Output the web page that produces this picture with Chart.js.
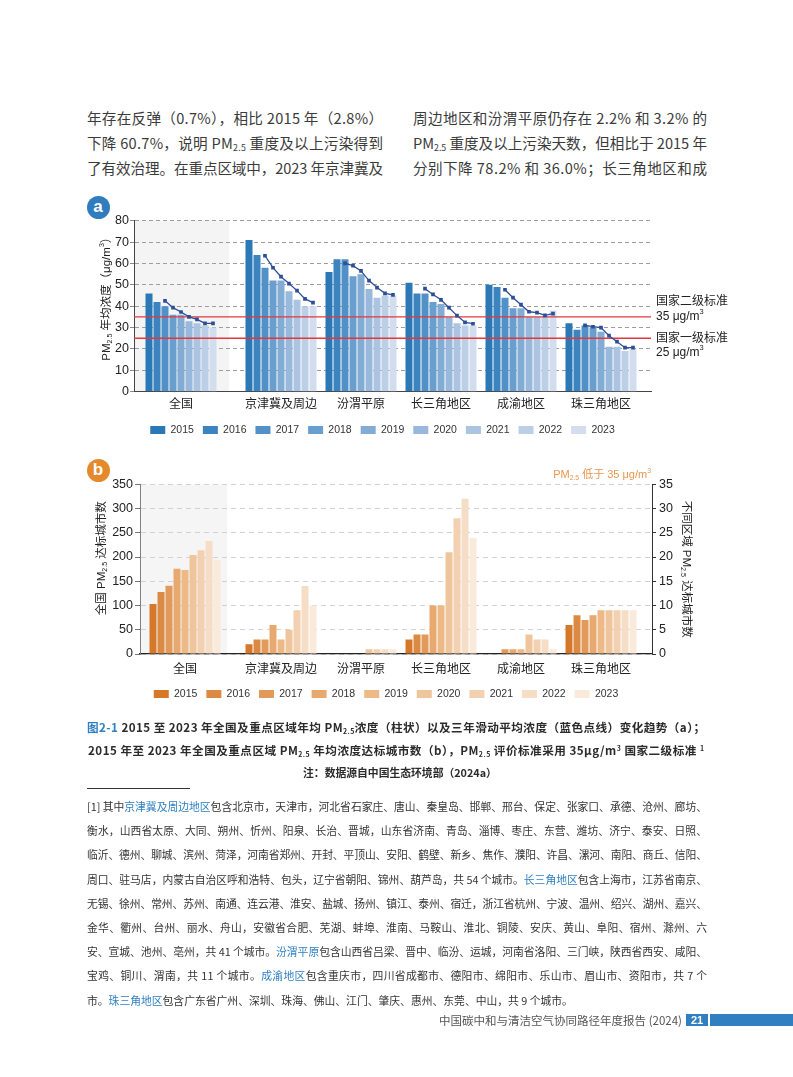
<!DOCTYPE html>
<html lang="zh-CN">
<head>
<meta charset="utf-8">
<title>图2-1</title>
<script src="https://cdn.jsdelivr.net/npm/chart.js@4.4.1/dist/chart.umd.min.js"></script>
<style>
  html, body { margin: 0; padding: 0; background: #fff; }
  body { position: relative; width: 793px; height: 1077px; overflow: hidden;
    font-family: "Noto Sans CJK SC", "Liberation Sans", sans-serif; color: #3b3b3b; }
  .abs { position: absolute; }
  .para { font-size: 14.6px; line-height: 25px; }
  .j { white-space: nowrap; }
  sub { font-size: 0.6em; vertical-align: -0.25em; line-height: 0; }
  sup { font-size: 0.6em; vertical-align: 0.6em; line-height: 0; }
  .cap { font-size: 11.6px; font-weight: 700; color: #2b2b2b; line-height: 23px; }
  .blue { color: #2f7fc1; }
  .note { font-size: 10.8px; line-height: 24.2px; color: #333; }
  .badge { width: 23px; height: 23px; border-radius: 50%; color: #fff; text-align: center;
    font: bold 17px "Liberation Sans", sans-serif; line-height: 21px; }
</style>
</head>
<body>

<div class="abs para" style="left:87px;top:105px;width:296px">
  <div class="j">年存在反弹（0.7%），相比 2015 年（2.8%）</div>
  <div class="j">下降 60.7%，说明 PM<sub>2.5</sub> 重度及以上污染得到</div>
  <div class="j">了有效治理。在重点区域中，2023 年京津冀及</div>
</div>
<div class="abs para" style="left:413px;top:105px;width:294px">
  <div class="j">周边地区和汾渭平原仍存在 2.2% 和 3.2% 的</div>
  <div class="j">PM<sub>2.5</sub> 重度及以上污染天数，但相比于 2015 年</div>
  <div class="j">分别下降 78.2% 和 36.0%；长三角地区和成</div>
</div>

<div class="abs badge" style="left:86.5px;top:195.5px;background:#2f7dbf">a</div>
<div class="abs" style="left:80px;top:190px"><canvas id="chartA" width="713" height="260"></canvas></div>

<div class="abs badge" style="left:86.5px;top:458.5px;background:#e58a2c">b</div>
<div class="abs" style="left:80px;top:455px"><canvas id="chartB" width="713" height="265"></canvas></div>

<div class="abs cap j" style="left:87px;top:715.5px;width:618px"><span class="blue">图2-1</span> 2015 至 2023 年全国及重点区域年均 PM<sub>2.5</sub>浓度（柱状）以及三年滑动平均浓度（蓝色点线）变化趋势（a）；</div>
<div class="abs cap j" style="left:88px;top:738.5px;width:616px">2015 年至 2023 年全国及重点区域 PM<sub>2.5</sub> 年均浓度达标城市数（b），PM<sub>2.5</sub> 评价标准采用 35μg/m<sup>3</sup> 国家二级标准 <sup>1</sup></div>
<div class="abs cap" style="left:250px;top:760.5px;width:300px;text-align:center;font-size:10.8px">注：数据源自中国生态环境部（2024a）</div>

<div class="abs" style="left:87px;top:788px;width:103px;height:1px;background:#333"></div>

<div class="abs note" style="left:87px;top:794px;width:620px">
  <div class="j">[1] 其中<span class="blue">京津冀及周边地区</span>包含北京市，天津市，河北省石家庄、唐山、秦皇岛、邯郸、邢台、保定、张家口、承德、沧州、廊坊、</div>
  <div class="j">衡水，山西省太原、大同、朔州、忻州、阳泉、长治、晋城，山东省济南、青岛、淄博、枣庄、东营、潍坊、济宁、泰安、日照、</div>
  <div class="j">临沂、德州、聊城、滨州、菏泽，河南省郑州、开封、平顶山、安阳、鹤壁、新乡、焦作、濮阳、许昌、漯河、南阳、商丘、信阳、</div>
  <div class="j">周口、驻马店，内蒙古自治区呼和浩特、包头，辽宁省朝阳、锦州、葫芦岛，共 54 个城市。<span class="blue">长三角地区</span>包含上海市，江苏省南京、</div>
  <div class="j">无锡、徐州、常州、苏州、南通、连云港、淮安、盐城、扬州、镇江、泰州、宿迁，浙江省杭州、宁波、温州、绍兴、湖州、嘉兴、</div>
  <div class="j">金华、衢州、台州、丽水、舟山，安徽省合肥、芜湖、蚌埠、淮南、马鞍山、淮北、铜陵、安庆、黄山、阜阳、宿州、滁州、六</div>
  <div class="j">安、宣城、池州、亳州，共 41 个城市。<span class="blue">汾渭平原</span>包含山西省吕梁、晋中、临汾、运城，河南省洛阳、三门峡，陕西省西安、咸阳、</div>
  <div class="j">宝鸡、铜川、渭南，共 11 个城市。<span class="blue">成渝地区</span>包含重庆市，四川省成都市、德阳市、绵阳市、乐山市、眉山市、资阳市，共 7 个</div>
  <div style="white-space:nowrap">市。<span class="blue">珠三角地区</span>包含广东省广州、深圳、珠海、佛山、江门、肇庆、惠州、东莞、中山，共 9 个城市。</div>
</div>

<div class="abs" style="right:111px;top:1012px;font-size:11.5px;line-height:16px;color:#555;white-space:nowrap">中国碳中和与清洁空气协同路径年度报告 (2024)</div>
<div class="abs" style="left:686px;top:1013.5px;width:22px;height:12px;background:#2f7fc1;color:#fff;font:bold 11px 'Liberation Sans',sans-serif;line-height:12px;text-align:center">21</div>
<div class="abs" style="left:710px;top:1013.5px;width:83px;height:12px;background:#2f7fc1"></div>

<script>
const years = ['2015', '2016', '2017', '2018', '2019', '2020', '2021', '2022', '2023']
const regions = ['全国', '京津冀及周边', '汾渭平原', '长三角地区', '成渝地区', '珠三角地区']
const regionPosA = [0, 1.25, 2.25, 3.25, 4.25, 5.25]
const regionPosB = [0.05, 1.25, 2.25, 3.25, 4.25, 5.25]

// (a) annual mean PM2.5, ug/m3, 2015-2023
const pmNational = [46, 42, 40, 36, 36, 33, 32, 31, 30]
const pmJJJ = [71, 64, 58, 52, 52, 47, 43, 40, 40]
const pmFenwei = [56, 62, 62, 54, 55, 48, 44, 45, 45]
const pmYRD = [51, 46, 46, 42, 41, 35, 32, 31, 31]
const pmChengyu = [50, 49, 44, 39, 39, 35, 35, 35, 38]
const pmPRD = [32, 29, 31, 30, 28, 21, 21, 19, 20]

// (a) three-year moving average, 2017-2023
const maNational = [42.5, 39.3, 37.3, 35, 33.8, 32, 32]
const maJJJ = [63.6, 58, 53.8, 50.6, 47.3, 43.4, 41.7]
const maFenwei = [60, 59, 56.5, 52, 48.7, 46, 45.3]
const maYRD = [48.2, 45.5, 43, 39.3, 35.6, 32.4, 31.8]
const maChengyu = [47.7, 44, 40.7, 37.4, 37, 35.7, 36.5]
const maPRD = [31, 30.4, 30, 26.2, 23.4, 20.6, 20.6]

const standardValues = [35, 25]
const standardNames = ['国家二级标准', '国家一级标准']

// (b) cities meeting 35 ug/m3 (全国 on left axis, regions on right axis)
const cityNational = [103, 128, 141, 176, 173, 204, 214, 233, 194]
const cityJJJ = [2, 3, 3, 6, 3, 5, 9, 14, 10]
const cityFenwei = [0, 0, 0, 0, 0, 1, 1, 1, 1]
const cityYRD = [3, 4, 4, 10, 10, 21, 28, 32, 24]
const cityChengyu = [0, 0, 1, 1, 1, 4, 3, 3, 1]
const cityPRD = [6, 8, 7, 8, 9, 9, 9, 9, 9]

const BLUES = ['#2b78b6', '#3b84c0', '#5291c8', '#6a9ece', '#83acd5', '#98b8dc', '#aac4e2', '#bccfe7', '#d2ddee']
const ORANGES = ['#d5782a', '#dc8943', '#e29a5a', '#e7a96f', '#ecb987', '#efc59b', '#f3d1b0', '#f6dec6', '#f9eadc']
const LINE_BLUE = '#2e4f98'
const CAT_PCT = 0.9

const FONT_LATIN = '"Liberation Sans", "Noto Sans CJK SC", sans-serif'
const FONT_CJK = '"Noto Sans CJK SC", "Liberation Sans", sans-serif'

// stretch or squeeze each text line to its box width
function fitLines() {
  document.querySelectorAll('.j').forEach(el => {
    const target = el.getBoundingClientRect().width
    el.style.width = 'max-content'
    const natural = el.getBoundingClientRect().width
    el.style.width = target + 'px'
    const n = [...el.textContent.replace(/\s+/g, ' ').trim()].length
    el.style.letterSpacing = ((target - natural) / Math.max(n - 1, 1)) + 'px'
  })
}
fitLines()

// text with _sub and ^sup parts
function drawRich(ctx, parts, x, y, size, color, align) {
  ctx.save()
  ctx.fillStyle = color
  ctx.textBaseline = 'middle'
  ctx.textAlign = 'left'
  const items = parts.map(p => {
    let s = size, dy = 0, t = p
    if (p[0] === '_') { t = p.slice(1); s = size * 0.62; dy = size * 0.3 }
    else if (p[0] === '^') { t = p.slice(1); s = size * 0.62; dy = -size * 0.38 }
    ctx.font = `${s}px ${FONT_LATIN}`
    return { t, s, dy, w: ctx.measureText(t).width }
  })
  const total = items.reduce((a, it) => a + it.w, 0)
  let cx = align === 'center' ? x - total / 2 : align === 'right' ? x - total : x
  for (const it of items) {
    ctx.font = `${it.s}px ${FONT_LATIN}`
    ctx.fillText(it.t, cx, y + it.dy)
    cx += it.w
  }
  ctx.restore()
}

const barOffset = (k) => (k - (years.length - 1) / 2) * CAT_PCT / years.length

const shadePlugin = {
  id: 'shade',
  beforeDraw(chart, args, opts) {
    const { ctx, chartArea: a, scales: { x } } = chart
    ctx.save()
    ctx.fillStyle = opts.color
    ctx.fillRect(a.left, a.top, x.getPixelForValue(opts.to) - a.left, a.bottom - a.top)
    ctx.restore()
  },
}

const legendShift = {
  id: 'legendShift',
  afterLayout(chart, args, opts) {
    const l = chart.legend
    if (!l) return
    l.left += opts.dx
    l.right += opts.dx
  },
}

const standardsPlugin = {
  id: 'standards',
  beforeDatasetDraw(chart, args) {
    if (args.meta.type !== 'line') return
    const { ctx, chartArea: a, scales: { y } } = chart
    ctx.save()
    ctx.strokeStyle = '#e2383c'
    ctx.lineWidth = 1.3
    standardValues.forEach(v => {
      const py = y.getPixelForValue(v)
      ctx.beginPath()
      ctx.moveTo(a.left, py)
      ctx.lineTo(a.right, py)
      ctx.stroke()
    })
    ctx.restore()
  },
  afterDraw(chart) {
    const { ctx, chartArea: a, scales: { y } } = chart
    standardValues.forEach((v, i) => {
      const py = y.getPixelForValue(v)
      const nameY = i === 0 ? py - 15 : py
      const valY = i === 0 ? py : py + 14
      drawRich(ctx, [standardNames[i]], a.right + 5, nameY, 12, '#222', 'left')
      drawRich(ctx, [`${v} μg/m`, '^3'], a.right + 5, valY, 12, '#222', 'left')
    })
    // y title
    ctx.save()
    ctx.translate(y.left + 26.7, (a.top + a.bottom) / 2 - 10)
    ctx.rotate(-Math.PI / 2)
    drawRich(ctx, ['PM', '_2.5', ' 年均浓度（μg/m', '^3', '）'], 0, 0, 11.5, '#222', 'center')
    ctx.restore()
  },
}

const titlesB = {
  id: 'titlesB',
  afterDraw(chart) {
    const { ctx, chartArea: a, scales: { y, y1 } } = chart
    ctx.save()
    ctx.translate(y.left + 21.7, (a.top + a.bottom) / 2 - 11)
    ctx.rotate(-Math.PI / 2)
    drawRich(ctx, ['全国 PM', '_2.5', ' 达标城市数'], 0, 0, 11.5, '#222', 'center')
    ctx.restore()
    ctx.save()
    ctx.translate(y1.left + 34, (a.top + a.bottom) / 2)
    ctx.rotate(Math.PI / 2)
    drawRich(ctx, ['不同区域 PM', '_2.5', ' 达标城市数'], 0, 0, 11.5, '#222', 'center')
    ctx.restore()
    drawRich(ctx, ['PM', '_2.5', ' 低于 35 μg/m', '^3'], a.right - 1, a.top - 9, 11, '#e8964f', 'right')
  },
}

function legendOpts() {
  return {
    position: 'bottom',
    fullSize: false,
    labels: {
      boxWidth: 15, boxHeight: 8, padding: 9, color: '#333',
      font: { family: FONT_LATIN, size: 10.5 },
      filter: item => item.datasetIndex < years.length,
    },
  }
}

// ---- chart (a)
const pmByRegion = [pmNational, pmJJJ, pmFenwei, pmYRD, pmChengyu, pmPRD]
const maByRegion = [maNational, maJJJ, maFenwei, maYRD, maChengyu, maPRD]

const barsA = years.map((yr, k) => ({
  label: yr,
  backgroundColor: BLUES[k],
  data: regionPosA.map((x, r) => ({ x, y: pmByRegion[r][k] })),
}))

const maPoints = []
maByRegion.forEach((vals, r) => {
  vals.forEach((v, j) => maPoints.push({ x: regionPosA[r] + barOffset(j + 2), y: v }))
  maPoints.push({ x: regionPosA[r] + 0.5, y: null })
})

new Chart(document.getElementById('chartA'), {
  type: 'bar',
  data: {
    datasets: [...barsA, {
      type: 'line', label: '三年滑动平均', data: maPoints, order: -1,
      borderColor: LINE_BLUE, borderWidth: 1.3, tension: 0, spanGaps: false,
      pointStyle: 'rect', pointRadius: 2.6, pointBorderWidth: 0, pointBackgroundColor: LINE_BLUE,
    }],
  },
  options: {
    responsive: false,
    animation: false,
    layout: { padding: { top: 30.7, right: 142, bottom: 4.8, left: 0 } },
    datasets: { bar: { categoryPercentage: CAT_PCT, barPercentage: 0.875, borderWidth: 0 } },
    scales: {
      x: {
        type: 'linear', offset: false, min: -0.5875, max: 5.875,
        afterBuildTicks: s => { s.ticks = regionPosA.map(v => ({ value: v })) },
        afterFit: s => { s.height = 24 },
        ticks: { autoSkip: false, maxRotation: 0, padding: 5, color: '#222',
          font: { family: FONT_CJK, size: 12 }, callback: (v, i) => regions[i] },
        grid: { display: false, drawTicks: false, offset: false },
        border: { color: '#444', width: 1 },
      },
      y: {
        min: 0, max: 80,
        afterFit: s => { s.width = 54 },
        ticks: { stepSize: 10, padding: 1, color: '#222', font: { family: FONT_LATIN, size: 12.5 } },
        grid: { color: '#9d9d9d', tickColor: '#8a8a8a', tickLength: 4 },
        border: { color: '#444', dash: [4, 3] },
      },
    },
    plugins: {
      legend: legendOpts(),
      tooltip: { enabled: false },
      shade: { color: '#f4f4f4', to: 0.6 },
      legendShift: { dx: -10 },
    },
  },
  plugins: [shadePlugin, legendShift, standardsPlugin],
})

// ---- chart (b)
const citiesByRegion = [cityNational, cityJJJ, cityFenwei, cityYRD, cityChengyu, cityPRD]

const barsNational = years.map((yr, k) => ({
  label: yr, yAxisID: 'y', backgroundColor: ORANGES[k],
  data: regionPosB.map((x, r) => ({ x, y: r === 0 ? citiesByRegion[r][k] : null })),
}))
const barsRegions = years.map((yr, k) => ({
  label: yr, yAxisID: 'y1', backgroundColor: ORANGES[k],
  data: regionPosB.map((x, r) => ({ x, y: r === 0 ? null : citiesByRegion[r][k] })),
}))

new Chart(document.getElementById('chartB'), {
  type: 'bar',
  data: { datasets: [...barsNational, ...barsRegions] },
  options: {
    responsive: false,
    animation: false,
    layout: { padding: { top: 29.3, right: 93, bottom: 10.75, left: 0 } },
    datasets: { bar: { categoryPercentage: CAT_PCT, barPercentage: 0.875, borderWidth: 0, skipNull: true } },
    scales: {
      x: {
        type: 'linear', offset: false, min: -0.5125, max: 5.8875,
        afterBuildTicks: s => { s.ticks = regionPosB.map(v => ({ value: v })) },
        afterFit: s => { s.height = 25.75 },
        ticks: { autoSkip: false, maxRotation: 0, padding: 7.5, color: '#222',
          font: { family: FONT_CJK, size: 12 }, callback: (v, i) => regions[i] },
        grid: { display: false, drawTicks: false, offset: false },
        border: { color: '#222', width: 1.3 },
      },
      y: {
        position: 'left', min: 0, max: 350,
        afterFit: s => { s.width = 60 },
        ticks: { stepSize: 50, padding: 2, color: '#222', font: { family: FONT_LATIN, size: 12.5 } },
        grid: { color: '#d2d2d2', tickColor: '#777', tickLength: 5 },
        border: { color: '#808080', dash: [5, 4] },
      },
      y1: {
        position: 'right', min: 0, max: 35,
        afterFit: s => { s.width = 48 },
        ticks: { stepSize: 5, padding: 3, color: '#222', font: { family: FONT_LATIN, size: 12.5 } },
        grid: { drawOnChartArea: false, tickColor: '#333', tickLength: 4 },
        border: { color: '#333' },
      },
    },
    plugins: {
      legend: legendOpts(),
      tooltip: { enabled: false },
      shade: { color: '#f5f5f5', to: 0.575 },
      legendShift: { dx: -10 },
    },
  },
  plugins: [shadePlugin, legendShift, titlesB],
})
</script>
</body>
</html>
